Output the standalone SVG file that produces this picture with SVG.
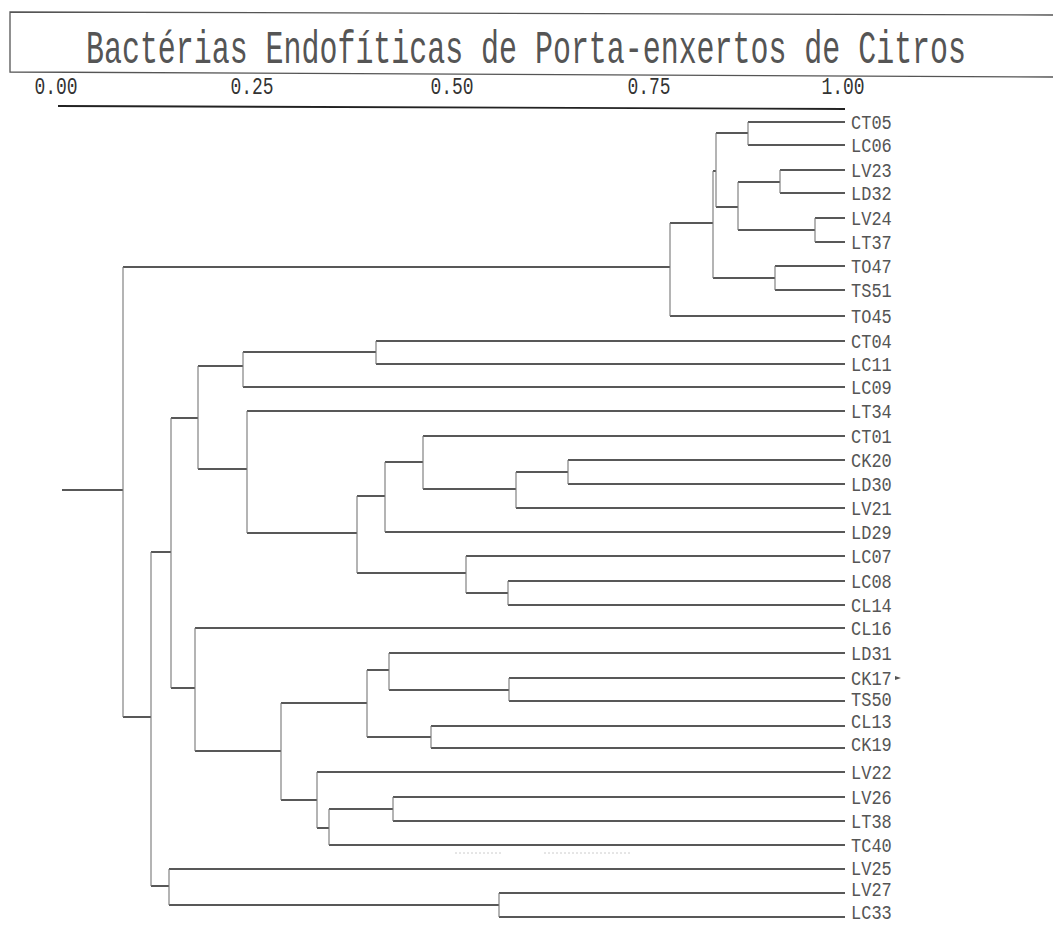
<svg xmlns="http://www.w3.org/2000/svg" width="1053" height="925" viewBox="0 0 1053 925">
<style>
.bg{fill:#fff}
.frame{fill:none;stroke:#555;stroke-width:1.3}
.title{font-family:"Liberation Mono",monospace;font-size:30px;fill:#555}
.scale{font-family:"Liberation Mono",monospace;font-size:18px;fill:#333;text-anchor:middle}
.lbl{font-family:"Liberation Mono",monospace;font-size:17px;fill:#555}
.h{fill:none;stroke:#222;stroke-width:1.5}
.v{fill:none;stroke:#777;stroke-width:1.1}
.axis{fill:none;stroke:#222;stroke-width:1.8}
.faint{fill:none;stroke:#ccc;stroke-width:1;stroke-dasharray:2 2}
</style>
<rect class="bg" x="0" y="0" width="1053" height="925"/>
<g id="title">
<path class="frame" d="M1053,15 L10,12 L10,72 L1053,77"/>
<text class="title" transform="translate(86,63) scale(1,1.55)" x="0" y="0" textLength="880" lengthAdjust="spacingAndGlyphs">Bactérias Endofíticas de Porta-enxertos de Citros</text>
</g>
<g id="scale">
<text class="scale" transform="translate(56,94) scale(1,1.3)">0.00</text>
<text class="scale" transform="translate(252,94) scale(1,1.3)">0.25</text>
<text class="scale" transform="translate(452,94) scale(1,1.3)">0.50</text>
<text class="scale" transform="translate(649,94) scale(1,1.3)">0.75</text>
<text class="scale" transform="translate(843,94) scale(1,1.3)">1.00</text>
<path class="axis" d="M58,106 L845,109"/>
</g>
<g id="connectors">
<path class="h" d="M62,490H123 M123,267H670 M123,717H151
M670,223H713 M670,316H845 M713,171H716 M713,278H775
M716,133H748 M716,207H738 M748,122H845 M748,145H845
M738,182H780 M738,230H815 M780,170H845 M780,193H845
M815,218H845 M815,242H845 M775,266H845 M775,290H845
M151,552H171 M151,886H169 M171,418H198 M171,688H195
M198,366H243 M198,469H247 M243,352H376 M243,387H845
M376,341H845 M376,364H845 M247,411H845 M247,533H357
M357,496H385 M357,573H466 M385,462H423 M385,532H845
M423,436H845 M423,489H516 M516,472H568 M516,508H845
M568,460H845 M568,484H845 M466,556H845 M466,593H508
M508,581H845 M508,605H845
M195,628H845 M195,751H281 M281,703H367 M281,800H317
M367,670H389 M367,737H431 M389,653H845 M389,690H509
M509,678H845 M509,701H845 M431,726H845 M431,748H845
M317,772H845 M317,828H329 M329,809H393 M329,845H845
M393,797H845 M393,821H845
M169,869H845 M169,905H499 M499,893H845 M499,917H845"/>
<path class="v" d="M123,267V717 M670,223V316 M713,171V278 M716,133V207
M748,122V145 M738,182V230 M780,170V193 M815,218V242 M775,266V290
M151,552V886 M171,418V688 M198,366V469 M243,352V387 M376,341V364
M247,411V533 M357,496V573 M385,462V532 M423,436V489 M516,472V508
M568,460V484 M466,556V593 M508,581V605
M195,628V751 M281,703V800 M367,670V737 M389,653V690 M509,678V701
M431,726V748 M317,772V828 M329,809V845 M393,797V821
M169,869V905 M499,893V917"/>
<path class="faint" d="M455,853H502 M544,853H630"/>
<path d="M895,676 L901,678 L895,680 Z" fill="#555"/>
</g>
<g id="leaf-CT05"><text class="lbl" transform="translate(851,129) scale(1,1.18)">CT05</text></g>
<g id="leaf-LC06"><text class="lbl" transform="translate(851,152) scale(1,1.18)">LC06</text></g>
<g id="leaf-LV23"><text class="lbl" transform="translate(851,177) scale(1,1.18)">LV23</text></g>
<g id="leaf-LD32"><text class="lbl" transform="translate(851,200) scale(1,1.18)">LD32</text></g>
<g id="leaf-LV24"><text class="lbl" transform="translate(851,225) scale(1,1.18)">LV24</text></g>
<g id="leaf-LT37"><text class="lbl" transform="translate(851,249) scale(1,1.18)">LT37</text></g>
<g id="leaf-TO47"><text class="lbl" transform="translate(851,273) scale(1,1.18)">TO47</text></g>
<g id="leaf-TS51"><text class="lbl" transform="translate(851,297) scale(1,1.18)">TS51</text></g>
<g id="leaf-TO45"><text class="lbl" transform="translate(851,323) scale(1,1.18)">TO45</text></g>
<g id="leaf-CT04"><text class="lbl" transform="translate(851,348) scale(1,1.18)">CT04</text></g>
<g id="leaf-LC11"><text class="lbl" transform="translate(851,371) scale(1,1.18)">LC11</text></g>
<g id="leaf-LC09"><text class="lbl" transform="translate(851,394) scale(1,1.18)">LC09</text></g>
<g id="leaf-LT34"><text class="lbl" transform="translate(851,418) scale(1,1.18)">LT34</text></g>
<g id="leaf-CT01"><text class="lbl" transform="translate(851,443) scale(1,1.18)">CT01</text></g>
<g id="leaf-CK20"><text class="lbl" transform="translate(851,467) scale(1,1.18)">CK20</text></g>
<g id="leaf-LD30"><text class="lbl" transform="translate(851,491) scale(1,1.18)">LD30</text></g>
<g id="leaf-LV21"><text class="lbl" transform="translate(851,515) scale(1,1.18)">LV21</text></g>
<g id="leaf-LD29"><text class="lbl" transform="translate(851,539) scale(1,1.18)">LD29</text></g>
<g id="leaf-LC07"><text class="lbl" transform="translate(851,563) scale(1,1.18)">LC07</text></g>
<g id="leaf-LC08"><text class="lbl" transform="translate(851,588) scale(1,1.18)">LC08</text></g>
<g id="leaf-CL14"><text class="lbl" transform="translate(851,612) scale(1,1.18)">CL14</text></g>
<g id="leaf-CL16"><text class="lbl" transform="translate(851,635) scale(1,1.18)">CL16</text></g>
<g id="leaf-LD31"><text class="lbl" transform="translate(851,660) scale(1,1.18)">LD31</text></g>
<g id="leaf-CK17"><text class="lbl" transform="translate(851,685) scale(1,1.18)">CK17</text></g>
<g id="leaf-TS50"><text class="lbl" transform="translate(851,706) scale(1,1.18)">TS50</text></g>
<g id="leaf-CL13"><text class="lbl" transform="translate(851,728) scale(1,1.18)">CL13</text></g>
<g id="leaf-CK19"><text class="lbl" transform="translate(851,751) scale(1,1.18)">CK19</text></g>
<g id="leaf-LV22"><text class="lbl" transform="translate(851,779) scale(1,1.18)">LV22</text></g>
<g id="leaf-LV26"><text class="lbl" transform="translate(851,804) scale(1,1.18)">LV26</text></g>
<g id="leaf-LT38"><text class="lbl" transform="translate(851,828) scale(1,1.18)">LT38</text></g>
<g id="leaf-TC40"><text class="lbl" transform="translate(851,852) scale(1,1.18)">TC40</text></g>
<g id="leaf-LV25"><text class="lbl" transform="translate(851,875) scale(1,1.18)">LV25</text></g>
<g id="leaf-LV27"><text class="lbl" transform="translate(851,896) scale(1,1.18)">LV27</text></g>
<g id="leaf-LC33"><text class="lbl" transform="translate(851,919) scale(1,1.18)">LC33</text></g>
</svg>
